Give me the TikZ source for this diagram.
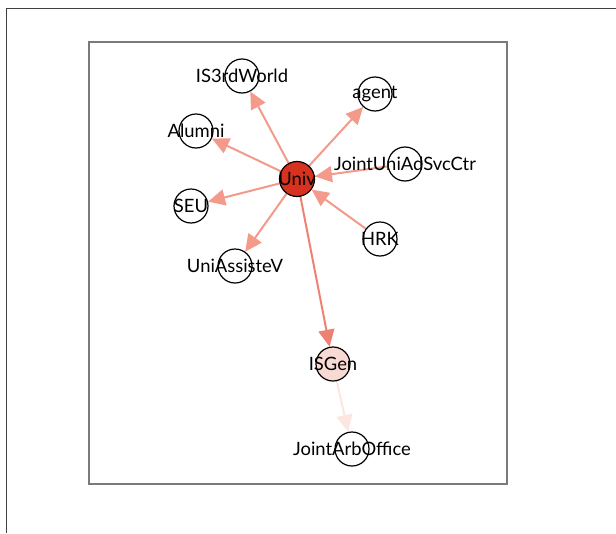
\documentclass[tikz,border=0pt]{standalone}
\usepackage{fontspec}
\setmainfont{Lato}
\usetikzlibrary{arrows.meta}
\pgfdeclarelayer{edges}
\pgfsetlayers{edges,main}
\definecolor{edgecol}{HTML}{F39A8B}
\definecolor{edgedark}{HTML}{EE8272}
\definecolor{edgefaint}{HTML}{FCE6E2}
\definecolor{univred}{HTML}{D7321F}
\definecolor{genpink}{HTML}{F9D9D3}
\definecolor{framegray}{HTML}{7A7A7A}
\tikzset{
  vert/.style={circle, draw=black, line width=1.2pt, minimum size=34pt, inner sep=0pt,
    label={[font=\fontsize{18.4}{18.4}\selectfont, text=black, inner sep=0pt]center:#1}},
  link/.style={draw=edgecol, line width=2pt, -{Triangle[length=17pt,width=16pt]}},
}
\begin{document}
\begin{tikzpicture}[x=1pt,y=-1pt]
\useasboundingbox (0,0) rectangle (616,533);
% page frame and plot box
\draw[black!75, line width=0.9pt] (6.5,533) -- (6.5,8) -- (616,8);
\draw[framegray, line width=1.8pt] (89,42) rectangle (507,484);

% vertices
\node[vert={Univ}, fill=univred, minimum size=35pt] (univ) at (297,179) {};
\node[vert={IS3rdWorld}] (is3) at (242,76) {};
\node[vert={agent}] (agent) at (375,94) {};
\node[vert={Alumni}] (alumni) at (196,131) {};
\node[vert={JointUniAdSvcCtr}] (juas) at (405,164) {};
\node[vert={SEU}] (seu) at (191,206) {};
\node[vert={HRK}] (hrk) at (380,239) {};
\node[vert={UniAssisteV}] (uav) at (235,266) {};
\node[vert={ISGen}, fill=genpink] (isgen) at (333,364) {};
\node[vert={JointArbOffice}] (jao) at (352,449) {};

% links
\begin{pgfonlayer}{edges}
\draw[link] (univ) -- (is3);
\draw[link] (univ) -- (agent);
\draw[link] (univ) -- (alumni);
\draw[link] (univ) -- (seu);
\draw[link] (univ) -- (uav);
\draw[link, draw=edgedark] (univ) -- (isgen);
\draw[link] (juas) -- (univ);
\draw[link] (hrk) -- (univ);
\draw[link, draw=edgefaint] (isgen) -- (jao);
\end{pgfonlayer}
\end{tikzpicture}
\end{document}
